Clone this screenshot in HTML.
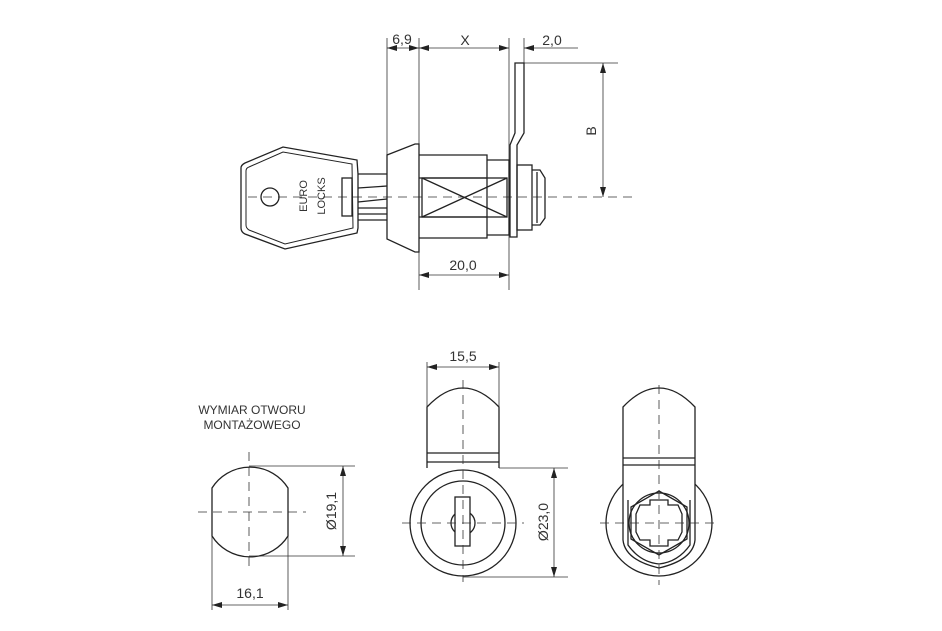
<!DOCTYPE html>
<html><head><meta charset="utf-8"><style>
html,body{margin:0;padding:0;background:#fff}
svg{display:block}
text{font-family:"Liberation Sans",sans-serif;fill:#333}
</style></head><body>
<svg width="942" height="631" viewBox="0 0 942 631" xmlns="http://www.w3.org/2000/svg">
<defs>
<marker id="a" viewBox="0 0 10 6" refX="10" refY="3" markerWidth="10" markerHeight="6" orient="auto-start-reverse" markerUnits="userSpaceOnUse"><path d="M0,0L10,3L0,6z" fill="#222"/></marker>
</defs>
<g fill="none" stroke="#333" stroke-width="0.8">
<line x1="248" y1="197" x2="632" y2="197" stroke-dasharray="9,6"/>
<line x1="387" y1="38" x2="387" y2="155"/>
<line x1="419" y1="38" x2="419" y2="290"/>
<line x1="509" y1="38" x2="509" y2="290"/>
<line x1="524" y1="38" x2="524" y2="63"/>
<line x1="524" y1="63" x2="618" y2="63"/>
<line x1="387" y1="48" x2="419" y2="48" marker-start="url(#a)" marker-end="url(#a)"/>
<line x1="419" y1="48" x2="509" y2="48" marker-start="url(#a)" marker-end="url(#a)"/>
<line x1="578" y1="48" x2="524" y2="48" marker-end="url(#a)"/>
<line x1="603" y1="63" x2="603" y2="197" marker-start="url(#a)" marker-end="url(#a)"/>
<line x1="419" y1="275" x2="509" y2="275" marker-start="url(#a)" marker-end="url(#a)"/>
</g>
<g fill="none" stroke="#222" stroke-width="1.3">
<path d="M245,163 L283,147 L357,160 L358,174 L358,228 L357,233 L285,249 L245,234 Q241,232 241,228 L241,168 Q241,165 245,163z"/>
<path d="M249,167 L283,152 L352,164 L353,228 L285,244 L249,230 Q246,228 246,225 L246,171 Q246,168 249,167z" stroke-width="1"/>
<circle cx="270" cy="197" r="9"/>
<rect x="342" y="178" width="10" height="38"/>
<path d="M358,174 L387,174 M358,188 L387,186 M358,202 L387,199 M358,208 L387,208 M358,214 L387,214 M358,220 L387,220"/>
<path d="M387,155 L415,144 L419,144 L419,252 L415,252 L387,239z"/>
<path d="M419,155 L487,155 L487,238 L419,238"/>
<path d="M487,160 L509,160 L509,235 L487,235"/>
<path d="M419,178 L487,178 M419,217 L487,217"/>
<rect x="422" y="178" width="85" height="39"/>
<path d="M422,178 L507,217 M422,217 L507,178"/>
<path d="M515,63 L524,63 L524,133 L517,145 L517,237 L510,237 L510,145 L515,133z"/>
<rect x="517" y="165" width="15" height="65"/>
<path d="M532,170 L540,170 L545,178 L545,218 L540,225 L532,225"/>
<path d="M537,172 L537,223"/>
</g>
<g font-size="14">
<text x="402" y="44" text-anchor="middle">6,9</text>
<text x="465" y="45" text-anchor="middle">X</text>
<text x="552" y="45" text-anchor="middle">2,0</text>
<text x="463" y="270" text-anchor="middle">20,0</text>
<text transform="translate(596,131) rotate(-90)" text-anchor="middle">B</text>
</g>
<g font-size="11">
<text transform="translate(307,196) rotate(-90)" text-anchor="middle">EURO</text>
<text transform="translate(325,196) rotate(-90)" text-anchor="middle">LOCKS</text>
</g>

<text x="252" y="414" font-size="12" text-anchor="middle">WYMIAR OTWORU</text>
<text x="252" y="429" font-size="12" text-anchor="middle">MONTAŻOWEGO</text>
<g fill="none" stroke="#333" stroke-width="0.8">
<line x1="249" y1="452" x2="249" y2="570" stroke-dasharray="9,6"/>
<line x1="198" y1="512" x2="306" y2="512" stroke-dasharray="9,6"/>
<line x1="249" y1="466" x2="355" y2="466"/>
<line x1="249" y1="556" x2="355" y2="556"/>
<line x1="343" y1="466" x2="343" y2="556" marker-start="url(#a)" marker-end="url(#a)"/>
<line x1="212" y1="530" x2="212" y2="610"/>
<line x1="288" y1="530" x2="288" y2="610"/>
<line x1="212" y1="605" x2="288" y2="605" marker-start="url(#a)" marker-end="url(#a)"/>
</g>
<path d="M212,488 A45,45 0 0 1 288,488 L288,536 A45,45 0 0 1 212,536z" fill="none" stroke="#222" stroke-width="1.3"/>
<text x="250" y="598" font-size="14" text-anchor="middle">16,1</text>
<text transform="translate(336,511) rotate(-90)" font-size="14" text-anchor="middle">Ø19,1</text>

<g fill="none" stroke="#222" stroke-width="1.3">
<path d="M427,468 L427,407 Q445,388 463,388 Q481,388 499,407 L499,468"/>
<path d="M427,453 L499,453 M427,462 L499,462"/>
<circle cx="463" cy="523" r="53" fill="#fff"/>
<circle cx="463" cy="523" r="42"/>
<circle cx="463" cy="523" r="12"/>
<rect x="455" y="497" width="15" height="49" fill="#fff"/>
</g>
<g fill="none" stroke="#333" stroke-width="0.8">
<line x1="463" y1="380" x2="463" y2="582" stroke-dasharray="9,6"/>
<line x1="402" y1="523" x2="524" y2="523" stroke-dasharray="9,6"/>
<line x1="427" y1="362" x2="427" y2="407"/>
<line x1="499" y1="362" x2="499" y2="407"/>
<line x1="427" y1="367" x2="499" y2="367" marker-start="url(#a)" marker-end="url(#a)"/>
<line x1="499" y1="468" x2="568" y2="468"/>
<line x1="463" y1="577" x2="568" y2="577"/>
<line x1="554" y1="468" x2="554" y2="577" marker-start="url(#a)" marker-end="url(#a)"/>
</g>
<text x="463" y="361" font-size="14" text-anchor="middle">15,5</text>
<text transform="translate(548,522) rotate(-90)" font-size="14" text-anchor="middle">Ø23,0</text>

<g fill="none" stroke="#222" stroke-width="1.3">
<circle cx="659" cy="523" r="53"/>
<path d="M623,540 L623,407 Q641,388 659,388 Q677,388 695,407 L695,540 Q693,560 659,568 Q625,560 623,540z" fill="#fff"/>
<path d="M623,458 L695,458 M623,465 L695,465"/>
<path d="M628,500 L628,545 Q640,562 659,564 Q678,562 690,545 L690,500"/>
<circle cx="659" cy="523" r="30" fill="#fff"/>
<path d="M659,491 L687,507 L687,539 L659,555 L631,539 L631,507z"/>
<path d="M650,500 L668,500 L668,505 L678,505 L682,514 L682,532 L678,540 L668,540 L668,546 L650,546 L650,540 L640,540 L636,532 L636,514 L640,505 L650,505z"/>
</g>
<g fill="none" stroke="#333" stroke-width="0.8">
<line x1="659" y1="385" x2="659" y2="585" stroke-dasharray="9,6"/>
<line x1="600" y1="523" x2="718" y2="523" stroke-dasharray="9,6"/>
</g>
</svg>
</body></html>
